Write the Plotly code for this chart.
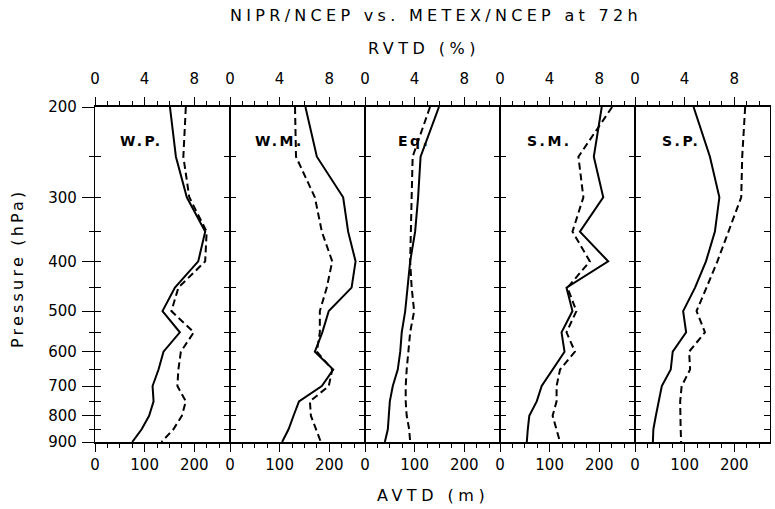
import plotly.graph_objects as go

# ---------------- data ----------------
pressure = [200, 250, 300, 350, 400, 450, 500, 550, 600, 650, 700, 750, 800, 850, 900]
regions = ["W.P.", "W.M.", "Eq.", "S.M.", "S.P."]

# AVTD (m), solid line (NIPR/NCEP)
wp_solid = [151, 163, 185, 222, 208, 161, 136, 171, 138, 128, 116, 118, 109, 94, 75]
wm_solid = [152, 175, 228, 238, 253, 245, 199, 186, 171, 208, 185, 139, 128, 118, 105]
eq_solid = [149, 112, 107, 101, 91, 86, 81, 74, 71, 66, 56, 50, 48, 46, 40]
sm_solid = [205, 189, 208, 161, 218, 134, 146, 124, 130, 107, 84, 74, 59, 56, 54]
sp_solid = [118, 151, 170, 161, 143, 121, 97, 103, 76, 72, 54, 47, 42, 37, 36]

# AVTD (m), dashed line (METEX/NCEP)
wp_dash = [183, 178, 190, 225, 222, 168, 154, 199, 173, 168, 166, 183, 175, 158, 134]
wm_dash = [131, 133, 171, 185, 206, 195, 181, 181, 175, 206, 199, 161, 163, 173, 183]
eq_dash = [131, 96, 94, 93, 91, 94, 99, 91, 87, 84, 82, 82, 84, 89, 91]
sm_dash = [226, 158, 168, 146, 181, 136, 154, 134, 151, 121, 114, 114, 106, 114, 121]
sp_dash = [222, 216, 214, 188, 166, 144, 124, 141, 109, 111, 94, 91, 91, 92, 93]

solid_series = [wp_solid, wm_solid, eq_solid, sm_solid, sp_solid]
dash_series = [wp_dash, wm_dash, eq_dash, sm_dash, sp_dash]

p_major = [200, 300, 400, 500, 600, 700, 800, 900]
p_minor = [250, 350, 450, 550, 650, 750, 850]
avtd_range = [0, 272]
rvtd_range = [0, 10.88]

FONT = "DejaVu Sans"
def spaced(t, s):
    return f'<span style="letter-spacing:{s}px">{t}</span>'

W, H = 775, 509
L, R, T, B = 95, 5, 107, 67

fig = go.Figure()
layout = dict(
    width=W, height=H,
    margin=dict(l=L, r=R, t=T, b=B, pad=0),
    paper_bgcolor="white", plot_bgcolor="white",
    showlegend=False,
    font=dict(family=FONT, size=15, color="black"),
)

yr = [2.9542425, 2.3010300]  # log10(900), log10(200)
n = len(regions)
for i in range(n):
    k = i + 1
    xs = "" if k == 1 else str(k)
    dom = [i / n, (i + 1) / n]
    layout[f"xaxis{xs}"] = dict(
        domain=dom, anchor=f"y{xs}", range=avtd_range, side="bottom",
        showline=True, linecolor="black", linewidth=1.5, mirror=False,
        tickvals=[0, 100, 200], ticks="outside", ticklen=8, tickwidth=1.2, tickcolor="black",
        minor=dict(dtick=25, tick0=0, ticks="outside", ticklen=4, tickwidth=1, tickcolor="black"),
        showgrid=False, zeroline=False, fixedrange=True,
        tickfont=dict(size=15), ticklabelstandoff=0,
    )
    layout[f"yaxis{xs}"] = dict(
        domain=[0, 1], anchor=f"x{xs}", type="log", range=yr,
        showline=True, linecolor="black", linewidth=1, mirror="ticks",
        tickvals=p_major, ticks="inside", ticklen=6, tickwidth=1.2, tickcolor="black",
        minor=dict(tickvals=p_minor, ticks="inside", ticklen=6, tickwidth=1, tickcolor="black"),
        showticklabels=False, showgrid=False, zeroline=False, fixedrange=True,
    )
    # top RVTD axis
    t = n + k
    layout[f"xaxis{t}"] = dict(
        overlaying=f"x{xs}", anchor=f"y{xs}", side="top", range=rvtd_range,
        showline=True, linecolor="black", linewidth=1.5,
        tickvals=[0, 4, 8], ticks="outside", ticklen=8, tickwidth=1.2, tickcolor="black",
        minor=dict(dtick=1, tick0=0, ticks="outside", ticklen=4, tickwidth=1, tickcolor="black"),
        showgrid=False, zeroline=False, fixedrange=True,
        tickfont=dict(size=15), ticklabelstandoff=7,
    )
    fig.add_trace(go.Scatter(x=[0], y=[200], xaxis=f"x{t}", yaxis=f"y{xs}",
                             mode="markers", marker=dict(opacity=0), hoverinfo="skip"))
    fig.add_trace(go.Scatter(x=solid_series[i], y=pressure, xaxis=f"x{xs}", yaxis=f"y{xs}",
                             mode="lines", line=dict(color="black", width=2),
                             name="NIPR/NCEP"))
    fig.add_trace(go.Scatter(x=dash_series[i], y=pressure, xaxis=f"x{xs}", yaxis=f"y{xs}",
                             mode="lines", line=dict(color="black", width=2, dash="7px,4px"),
                             name="METEX/NCEP"))

# outer pressure axis with labels
layout["yaxis11"] = dict(
    overlaying="y", anchor="x", side="left", type="log", range=yr,
    showline=True, linecolor="black", linewidth=1.2,
    tickvals=p_major, ticktext=[str(v) for v in p_major],
    ticks="outside", ticklen=12, tickwidth=1.2, tickcolor="black",
    minor=dict(tickvals=p_minor, ticks="outside", ticklen=5, tickwidth=1, tickcolor="black"),
    showgrid=False, zeroline=False, fixedrange=True, tickfont=dict(size=15),
    ticklabelstandoff=2,
)
fig.add_trace(go.Scatter(x=[0], y=[200], xaxis="x", yaxis="y11", mode="markers",
                         marker=dict(opacity=0), hoverinfo="skip"))

label_x = [0.17, 0.17, 0.23, 0.185, 0.185]
annotations = []
for i, r in enumerate(regions):
    xs = "" if i == 0 else str(i + 1)
    annotations.append(dict(
        text=spaced(r, 2.5), xref=f"x{xs} domain", yref=f"y{xs} domain",
        x=label_x[i], y=0.90, xanchor="left", yanchor="middle", showarrow=False,
        font=dict(family=FONT, size=14, color="black", weight="bold"),
    ))

def px_x(px):
    return (px - L) / (W - L - R)
def px_y(py):
    return (H - B - py) / (H - T - B)

annotations += [
    dict(text=spaced("NIPR/NCEP vs. METEX/NCEP at 72h", 4.3), xref="paper", yref="paper",
         x=px_x(436), y=px_y(16), xanchor="center", yanchor="middle", showarrow=False,
         font=dict(size=16)),
    dict(text=spaced("RVTD (%)", 4.5), xref="paper", yref="paper",
         x=px_x(424), y=px_y(48), xanchor="center", yanchor="middle", showarrow=False,
         font=dict(size=16)),
    dict(text=spaced("AVTD (m)", 4.5), xref="paper", yref="paper",
         x=px_x(433), y=px_y(495), xanchor="center", yanchor="middle", showarrow=False,
         font=dict(size=16)),
    dict(text=spaced("Pressure (hPa)", 3.2), xref="paper", yref="paper",
         x=px_x(17), y=px_y(268), xanchor="center", yanchor="middle", showarrow=False,
         textangle=-90, font=dict(size=16)),
]
layout["annotations"] = annotations
fig.update_layout(**layout)
fig.write_html("out.html",
               config={"displayModeBar": False},
               post_script="document.body.style.margin='0';document.body.style.overflow='hidden';")
